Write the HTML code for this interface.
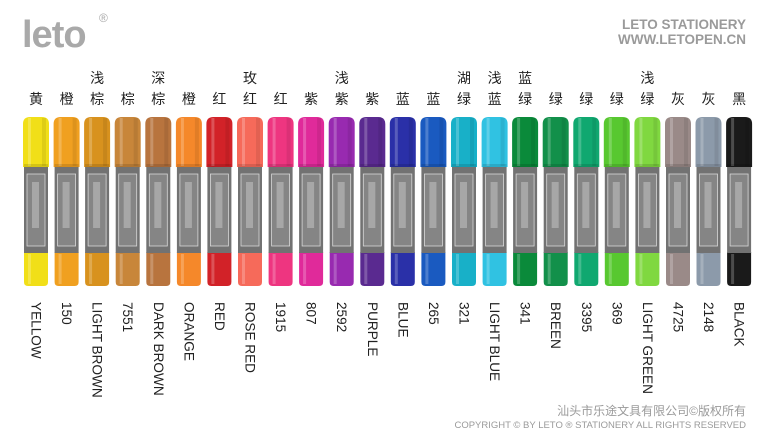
<!DOCTYPE html>
<html><head><meta charset="utf-8"><style>
html,body{margin:0;padding:0;background:#fff;width:770px;height:440px;overflow:hidden}
svg{display:block}
.cn{font-family:"Liberation Sans","Noto Sans CJK SC",sans-serif;font-size:14px;fill:#222;text-anchor:middle}
.en{font-family:"Liberation Sans",sans-serif;font-size:13.6px;fill:#222}
</style></head><body>
<svg width="770" height="440" viewBox="0 0 770 440" xmlns="http://www.w3.org/2000/svg">
<defs>
<g id="mk">
<path d="M-13,167 V124 Q-13,117 -6,117 H6 Q13,117 13,124 V167 Z"/>
<path d="M-12,252 H12 V282 Q12,286 8,286 H-8 Q-12,286 -12,282 Z"/>
<rect x="-8" y="118" width="3" height="48" fill="#fff" opacity=".22"/>
<rect x="-8" y="254" width="3" height="30" fill="#fff" opacity=".22"/>
<rect x="6" y="118" width="4" height="48" fill="#000" opacity=".08"/>
<rect x="-12" y="164" width="24" height="4" fill="#000" opacity=".12"/>
<rect x="-12" y="167" width="24" height="86" fill="#727272"/>
<rect x="-9" y="174" width="18" height="72" fill="#858585" stroke="#d8d8d8" stroke-width=".8"/>
<rect x="-4" y="182" width="7" height="46" fill="#e8e8e8" opacity=".35"/>
</g>
</defs>
<text x="22" y="47" font-family="Liberation Sans,sans-serif" font-weight="bold" font-size="38" fill="#a9a9a9" letter-spacing="-1">leto</text>
<text x="99" y="22" font-family="Liberation Sans,sans-serif" font-size="12" fill="#aaa">®</text>
<text x="746" y="29" text-anchor="end" font-family="Liberation Sans,sans-serif" font-weight="bold" font-size="13.5" fill="#9a9a9a">LETO STATIONERY</text>
<text x="746" y="44" text-anchor="end" font-family="Liberation Sans,sans-serif" font-weight="bold" font-size="13.5" fill="#9a9a9a">WWW.LETOPEN.CN</text>

<g fill="#f1df18" transform="translate(36,0)"><use href="#mk"/></g>
<g fill="#f0a020" transform="translate(66.6,0)"><use href="#mk"/></g>
<g fill="#d8921e" transform="translate(97.1,0)"><use href="#mk"/></g>
<g fill="#c8863a" transform="translate(127.7,0)"><use href="#mk"/></g>
<g fill="#b8743e" transform="translate(158.3,0)"><use href="#mk"/></g>
<g fill="#f5882a" transform="translate(188.9,0)"><use href="#mk"/></g>
<g fill="#d22228" transform="translate(219.4,0)"><use href="#mk"/></g>
<g fill="#f66a5a" transform="translate(250,0)"><use href="#mk"/></g>
<g fill="#ee3580" transform="translate(280.6,0)"><use href="#mk"/></g>
<g fill="#e02a9a" transform="translate(311.1,0)"><use href="#mk"/></g>
<g fill="#982ab0" transform="translate(341.7,0)"><use href="#mk"/></g>
<g fill="#5a2a90" transform="translate(372.3,0)"><use href="#mk"/></g>
<g fill="#2a30a8" transform="translate(402.8,0)"><use href="#mk"/></g>
<g fill="#1a5ac0" transform="translate(433.4,0)"><use href="#mk"/></g>
<g fill="#18b0c8" transform="translate(464,0)"><use href="#mk"/></g>
<g fill="#30c2e2" transform="translate(494.6,0)"><use href="#mk"/></g>
<g fill="#0a8a3a" transform="translate(525.1,0)"><use href="#mk"/></g>
<g fill="#12904a" transform="translate(555.7,0)"><use href="#mk"/></g>
<g fill="#10a870" transform="translate(586.3,0)"><use href="#mk"/></g>
<g fill="#58c830" transform="translate(616.8,0)"><use href="#mk"/></g>
<g fill="#80d840" transform="translate(647.4,0)"><use href="#mk"/></g>
<g fill="#9a8a88" transform="translate(678,0)"><use href="#mk"/></g>
<g fill="#8c9aaa" transform="translate(708.5,0)"><use href="#mk"/></g>
<g fill="#1a1a1a" transform="translate(739.1,0)"><use href="#mk"/></g>

<text class="cn" x="36" y="104">黄</text>
<text class="cn" x="66.6" y="104">橙</text>
<text class="cn" x="97.1" y="83">浅</text><text class="cn" x="97.1" y="104">棕</text>
<text class="cn" x="127.7" y="104">棕</text>
<text class="cn" x="158.3" y="83">深</text><text class="cn" x="158.3" y="104">棕</text>
<text class="cn" x="188.9" y="104">橙</text>
<text class="cn" x="219.4" y="104">红</text>
<text class="cn" x="250" y="83">玫</text><text class="cn" x="250" y="104">红</text>
<text class="cn" x="280.6" y="104">红</text>
<text class="cn" x="311.1" y="104">紫</text>
<text class="cn" x="341.7" y="83">浅</text><text class="cn" x="341.7" y="104">紫</text>
<text class="cn" x="372.3" y="104">紫</text>
<text class="cn" x="402.8" y="104">蓝</text>
<text class="cn" x="433.4" y="104">蓝</text>
<text class="cn" x="464" y="83">湖</text><text class="cn" x="464" y="104">绿</text>
<text class="cn" x="494.6" y="83">浅</text><text class="cn" x="494.6" y="104">蓝</text>
<text class="cn" x="525.1" y="83">蓝</text><text class="cn" x="525.1" y="104">绿</text>
<text class="cn" x="555.7" y="104">绿</text>
<text class="cn" x="586.3" y="104">绿</text>
<text class="cn" x="616.8" y="104">绿</text>
<text class="cn" x="647.4" y="83">浅</text><text class="cn" x="647.4" y="104">绿</text>
<text class="cn" x="678" y="104">灰</text>
<text class="cn" x="708.5" y="104">灰</text>
<text class="cn" x="739.1" y="104">黑</text>

<g class="en">
<text transform="translate(36,302) rotate(90)" y="4.5">YELLOW</text>
<text transform="translate(66.6,302) rotate(90)" y="4.5">150</text>
<text transform="translate(97.1,302) rotate(90)" y="4.5">LIGHT BROWN</text>
<text transform="translate(127.7,302) rotate(90)" y="4.5">7551</text>
<text transform="translate(158.3,302) rotate(90)" y="4.5">DARK BROWN</text>
<text transform="translate(188.9,302) rotate(90)" y="4.5">ORANGE</text>
<text transform="translate(219.4,302) rotate(90)" y="4.5">RED</text>
<text transform="translate(250,302) rotate(90)" y="4.5">ROSE RED</text>
<text transform="translate(280.6,302) rotate(90)" y="4.5">1915</text>
<text transform="translate(311.1,302) rotate(90)" y="4.5">807</text>
<text transform="translate(341.7,302) rotate(90)" y="4.5">2592</text>
<text transform="translate(372.3,302) rotate(90)" y="4.5">PURPLE</text>
<text transform="translate(402.8,302) rotate(90)" y="4.5">BLUE</text>
<text transform="translate(433.4,302) rotate(90)" y="4.5">265</text>
<text transform="translate(464,302) rotate(90)" y="4.5">321</text>
<text transform="translate(494.6,302) rotate(90)" y="4.5">LIGHT BLUE</text>
<text transform="translate(525.1,302) rotate(90)" y="4.5">341</text>
<text transform="translate(555.7,302) rotate(90)" y="4.5">BREEN</text>
<text transform="translate(586.3,302) rotate(90)" y="4.5">3395</text>
<text transform="translate(616.8,302) rotate(90)" y="4.5">369</text>
<text transform="translate(647.4,302) rotate(90)" y="4.5">LIGHT GREEN</text>
<text transform="translate(678,302) rotate(90)" y="4.5">4725</text>
<text transform="translate(708.5,302) rotate(90)" y="4.5">2148</text>
<text transform="translate(739.1,302) rotate(90)" y="4.5">BLACK</text>
</g>

<text x="746" y="415" text-anchor="end" font-family="Liberation Sans,'Noto Sans CJK SC',sans-serif" font-size="12" fill="#9a9a9a">汕头市乐途文具有限公司©版权所有</text>
<text x="746" y="428" text-anchor="end" font-family="Liberation Sans,sans-serif" font-size="9.5" fill="#9a9a9a">COPYRIGHT © BY LETO ® STATIONERY ALL RIGHTS RESERVED</text>
</svg>
</body></html>
